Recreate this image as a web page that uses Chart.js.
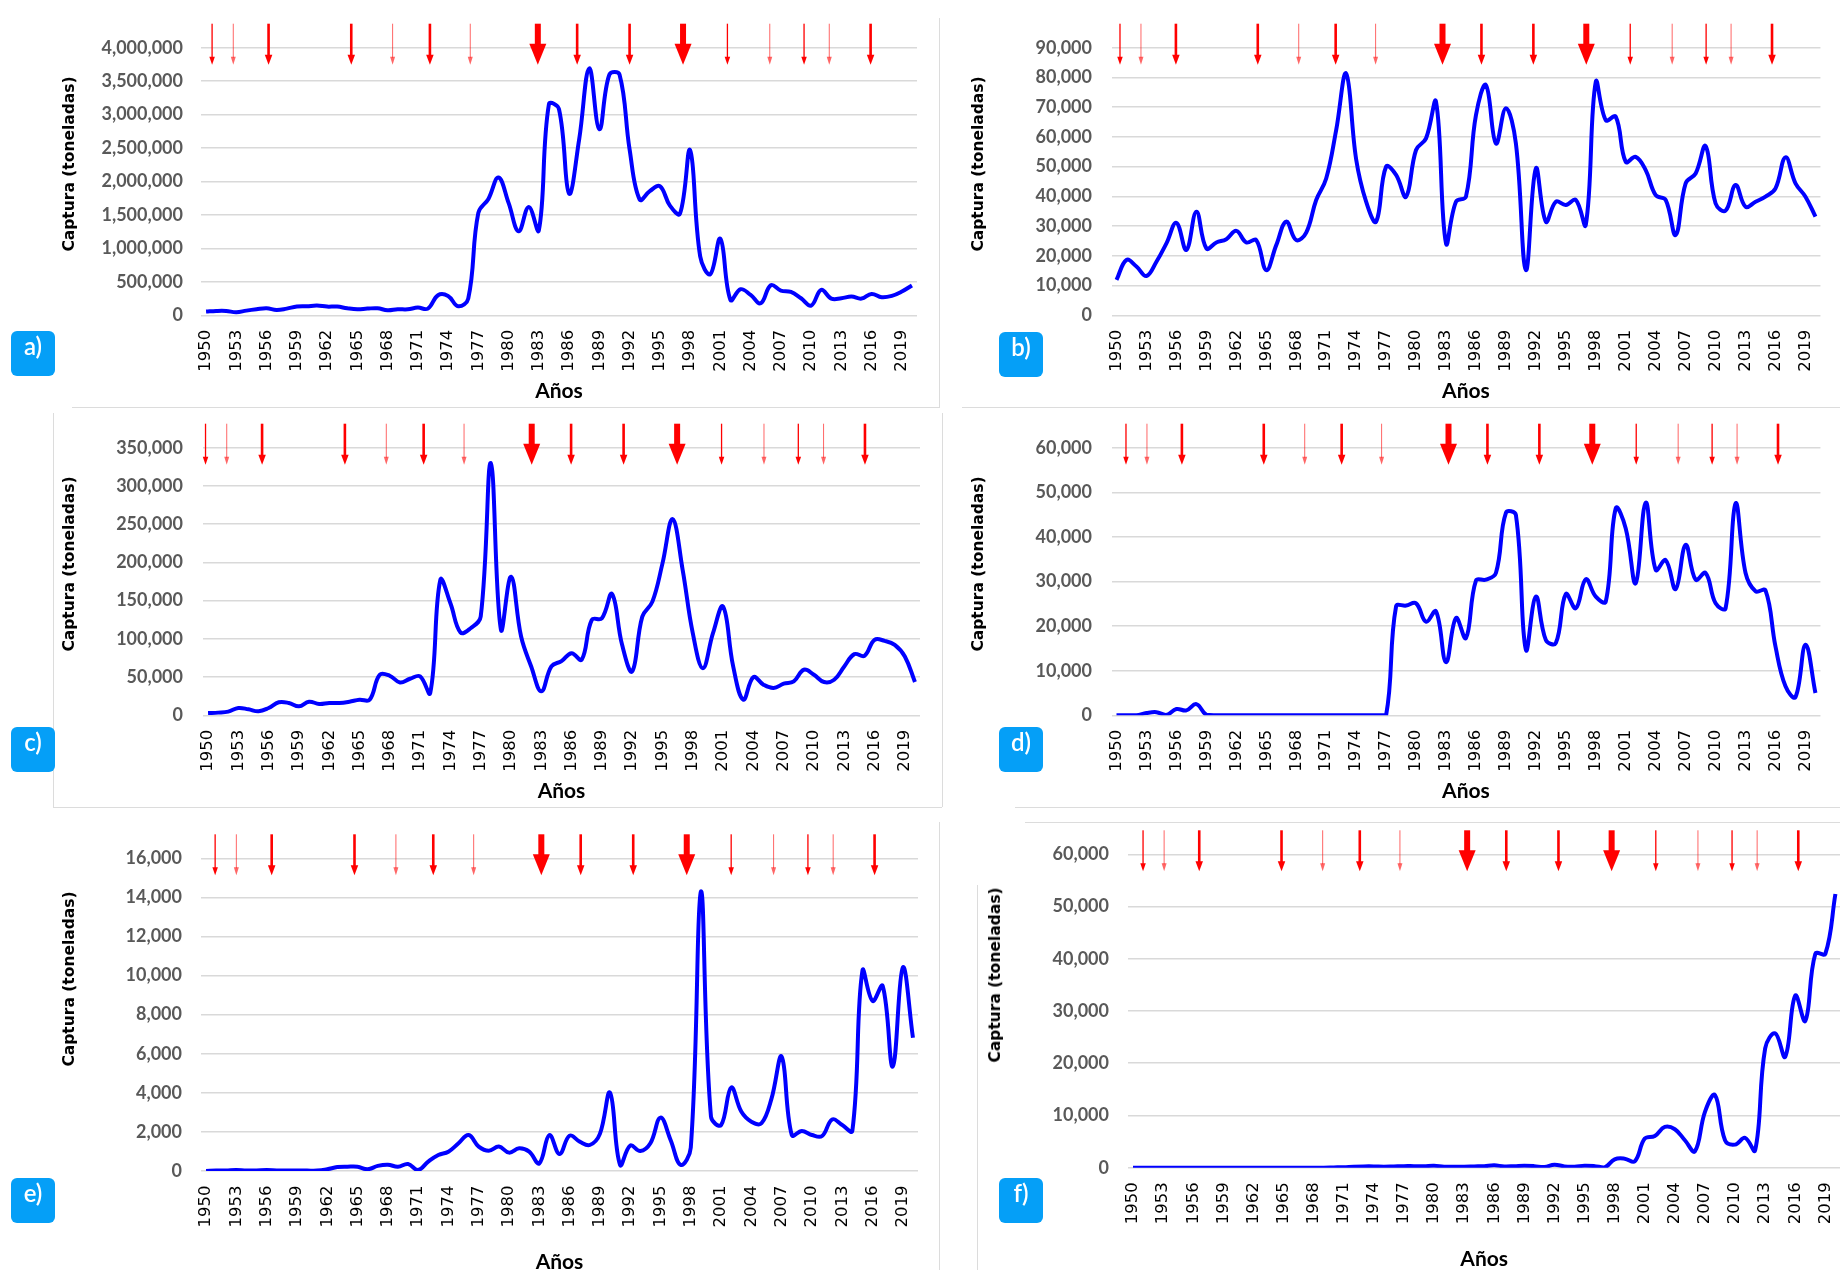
<!DOCTYPE html>
<html lang="es">
<head>
<meta charset="utf-8">
<title>Captura (toneladas) 1950-2020</title>
<script src="https://cdn.jsdelivr.net/npm/chart.js@4.4.1/dist/chart.umd.min.js"></script>
<style>
  html, body { margin: 0; padding: 0; background: #fff; }
  body { width: 1840px; height: 1270px; position: relative; overflow: hidden; }
  canvas { position: absolute; }
  .ytitle {
    position: absolute; white-space: nowrap;
    transform: translate(-50%, -50%) rotate(-90deg);
    font: bold 15.5px "DejaVu Sans", sans-serif; color: #000;
  }
  .badge {
    position: absolute; width: 44px; height: 45px; border-radius: 6px;
    background: #059ff7; color: #fff; text-align: center; line-height: 45px;
    font: 600 24px Lato, sans-serif;
  }
  .frame { position: absolute; background: #dcdcdc; }
</style>
</head>
<body>

<!-- marcos de los paneles -->
<div class="frame" style="left:939px;top:18px;width:1px;height:389px"></div>
<div class="frame" style="left:72px;top:407px;width:868px;height:1px"></div>
<div class="frame" style="left:962px;top:407px;width:878px;height:1px"></div>
<div class="frame" style="left:53px;top:413px;width:1px;height:394px"></div>
<div class="frame" style="left:942px;top:413px;width:1px;height:394px"></div>
<div class="frame" style="left:53px;top:807px;width:889px;height:1px"></div>
<div class="frame" style="left:1015px;top:807px;width:825px;height:1px"></div>
<div class="frame" style="left:939px;top:822px;width:1px;height:448px"></div>
<div class="frame" style="left:1025px;top:822px;width:815px;height:1px"></div>
<div class="frame" style="left:977px;top:885px;width:1px;height:385px"></div>

<canvas id="chartA" width="940" height="405" style="left:0;top:0"></canvas>
<canvas id="chartB" width="880" height="405" style="left:960px;top:0"></canvas>
<canvas id="chartC" width="940" height="405" style="left:0;top:400px"></canvas>
<canvas id="chartD" width="880" height="405" style="left:960px;top:400px"></canvas>
<canvas id="chartE" width="940" height="470" style="left:0;top:810px"></canvas>
<canvas id="chartF" width="900" height="470" style="left:960px;top:810px"></canvas>

<div class="ytitle" style="left:69px;top:164px">Captura (toneladas)</div>
<div class="ytitle" style="left:978px;top:164px">Captura (toneladas)</div>
<div class="ytitle" style="left:69px;top:564px">Captura (toneladas)</div>
<div class="ytitle" style="left:978px;top:564px">Captura (toneladas)</div>
<div class="ytitle" style="left:69px;top:979px">Captura (toneladas)</div>
<div class="ytitle" style="left:995px;top:975px">Captura (toneladas)</div>

<div class="badge" style="left:11px;top:331px">a)</div>
<div class="badge" style="left:999px;top:332px">b)</div>
<div class="badge" style="left:11px;top:727px">c)</div>
<div class="badge" style="left:999px;top:727px">d)</div>
<div class="badge" style="left:11px;top:1178px">e)</div>
<div class="badge" style="left:999px;top:1178px">f)</div>

<script>
// Años (eje X)
const years = [1950, 1951, 1952, 1953, 1954, 1955, 1956, 1957, 1958, 1959,
  1960, 1961, 1962, 1963, 1964, 1965, 1966, 1967, 1968, 1969,
  1970, 1971, 1972, 1973, 1974, 1975, 1976, 1977, 1978, 1979,
  1980, 1981, 1982, 1983, 1984, 1985, 1986, 1987, 1988, 1989,
  1990, 1991, 1992, 1993, 1994, 1995, 1996, 1997, 1998, 1999,
  2000, 2001, 2002, 2003, 2004, 2005, 2006, 2007, 2008, 2009,
  2010, 2011, 2012, 2013, 2014, 2015, 2016, 2017, 2018, 2019, 2020];
const tickYears = [1950, 1953, 1956, 1959, 1962, 1965, 1968, 1971, 1974, 1977, 1980, 1983,
  1986, 1989, 1992, 1995, 1998, 2001, 2004, 2007, 2010, 2013, 2016, 2019];

// Captura (toneladas) por panel, 1950-2020
const capturaA = [55000, 65000, 65000, 45000, 70000, 90000, 105000, 80000, 100000, 130000,
  135000, 145000, 130000, 130000, 105000, 90000, 100000, 105000, 75000, 90000,
  90000, 115000, 100000, 300000, 290000, 135000, 250000, 1530000, 1740000, 2060000,
  1680000, 1255000, 1620000, 1270000, 3155000, 3080000, 1820000, 2630000, 3690000, 2780000,
  3600000, 3600000, 2480000, 1730000, 1855000, 1930000, 1640000, 1520000, 2470000, 880000,
  615000, 1145000, 230000, 390000, 305000, 180000, 450000, 370000, 350000, 255000,
  145000, 380000, 250000, 255000, 280000, 250000, 320000, 270000, 290000, 355000, 445000];
const capturaB = [11900, 18600, 16400, 13200, 18000, 24200, 31100, 22000, 34800, 22500,
  24500, 25600, 28400, 24500, 25300, 15200, 23600, 31500, 25300, 27800,
  38800, 46000, 62300, 81300, 52500, 38200, 31500, 50000, 47200, 39900,
  55600, 59500, 71800, 24200, 38200, 39900, 67300, 77400, 57800, 69600,
  57800, 15200, 49400, 31500, 38200, 37100, 38800, 30400, 78500, 65600,
  66800, 51600, 53300, 48800, 40400, 38800, 27000, 44400, 47700, 56900,
  37600, 35200, 43800, 36500, 38200, 39900, 42700, 53100, 44400, 39900, 33200];
const capturaC = [3000, 3500, 4800, 9600, 7800, 5200, 9600, 17000, 16100, 11700,
  17800, 14800, 16100, 16100, 17800, 20400, 20400, 53000, 51700, 43000,
  47800, 50900, 29100, 177000, 146500, 108300, 113900, 129100, 330000, 112000,
  181300, 103000, 63900, 31300, 63900, 70900, 81300, 72600, 124800, 127000,
  158700, 92200, 57400, 129100, 148700, 198700, 256500, 190000, 107400, 61700,
  107400, 142200, 63900, 20400, 50000, 40000, 35700, 41300, 44300, 59600,
  53000, 43500, 46500, 63900, 80000, 77800, 98700, 97400, 92200, 77000, 43500];
const capturaD = [0, 0, 0, 500, 700, 100, 1400, 1100, 2500, 100,
  0, 0, 0, 0, 0, 0, 0, 0, 0, 0,
  0, 0, 0, 0, 0, 0, 0, 0, 24400, 24600,
  25100, 21000, 23300, 11900, 21800, 17300, 30200, 30400, 31900, 45400,
  44900, 14700, 26600, 16900, 16200, 27200, 24000, 30500, 26600, 25500,
  46400, 41900, 29600, 47700, 32600, 34800, 28300, 38200, 30400, 31900,
  25100, 24000, 47500, 31900, 27800, 28000, 15400, 6500, 4100, 15800, 5000];
const capturaE = [0, 20, 30, 50, 20, 30, 50, 30, 20, 20,
  20, 20, 90, 200, 220, 220, 90, 260, 320, 220,
  360, 50, 480, 820, 990, 1420, 1840, 1250, 1040, 1250,
  940, 1160, 990, 390, 1840, 870, 1810, 1500, 1330, 1900,
  4010, 310, 1300, 1020, 1420, 2730, 1590, 310, 1200, 14300,
  2780, 2350, 4270, 3040, 2520, 2440, 3720, 5850, 1840, 2050,
  1840, 1790, 2640, 2350, 2060, 10250, 8700, 9470, 5340, 10420, 6820];
const capturaF = [0, 0, 0, 0, 0, 0, 0, 0, 0, 0,
  0, 0, 0, 0, 0, 0, 0, 0, 0, 0,
  50, 100, 200, 250, 250, 200, 250, 300, 300, 300,
  380, 200, 200, 200, 250, 300, 450, 250, 300, 380,
  300, 130, 580, 250, 200, 380, 300, 60, 1600, 1730,
  1220, 5570, 6080, 7810, 7360, 5250, 3140, 10690, 13900, 5250,
  4420, 5700, 3330, 22850, 25700, 21250, 32960, 28100, 40960, 40960, 52400];

// Eventos El Niño: posición (año) e intensidad (1 débil ... 4 muy fuerte)
const ninoYears = [1950.6, 1952.7, 1956.2, 1964.4, 1968.5, 1972.2, 1976.2, 1982.9,
  1986.8, 1992.0, 1997.3, 2001.7, 2005.9, 2009.3, 2011.8, 2015.9];
const ninoStrength = [2, 1, 3, 3, 1, 3, 1, 4, 3, 3, 4, 2, 1, 2, 1, 3];

// estilo de las flechas según intensidad
const arrowStyles = [
  { color: 'rgba(255,0,0,0.6)', shaft: 1, headW: 5, headLen: 8 },
  { color: '#ff0000', shaft: 1.3, headW: 5.5, headLen: 8 },
  { color: '#ff0000', shaft: 2.6, headW: 7.5, headLen: 10 },
  { color: '#ff0000', shaft: 6, headW: 17, headLen: 21 }
];

// Flechas rojas sobre el área del gráfico
const ninoArrows = {
  id: 'ninoArrows',
  afterDatasetsDraw(chart, args, opts) {
    const ctx = chart.ctx;
    const xs = chart.scales.x;
    const top = chart.chartArea.top;
    const y0 = top - 24, y1 = top + 17;
    ctx.save();
    ninoYears.forEach(function(yr, i) {
      const st = arrowStyles[ninoStrength[i] - 1];
      const px = xs.getPixelForValue(yr - years[0] + (opts.shift || 0));
      ctx.fillStyle = st.color;
      ctx.fillRect(px - st.shaft / 2, y0, st.shaft, y1 - y0 - st.headLen + 1);
      ctx.beginPath();
      ctx.moveTo(px - st.headW / 2, y1 - st.headLen);
      ctx.lineTo(px + st.headW / 2, y1 - st.headLen);
      ctx.lineTo(px, y1);
      ctx.closePath();
      ctx.fill();
    });
    ctx.restore();
  }
};

const panels = [
  { id: 'chartA', data: capturaA, max: 4000000, step: 500000, yWidth: 201, padTop: 47.7, padRight: 23, xHeight: 89.7, tickPad: 18, titlePad: 1.4, shift: 0 },
  { id: 'chartB', data: capturaB, max: 90000, step: 10000, yWidth: 151.5, padTop: 47.7, padRight: 11, xHeight: 89.7, tickPad: 19.5, titlePad: 1.4, shift: -0.25 },
  { id: 'chartC', data: capturaC, max: 350000, step: 50000, yWidth: 203, padTop: 47.7, padRight: 20, xHeight: 89.7, tickPad: 20, titlePad: 1.4, shift: -0.85 },
  { id: 'chartD', data: capturaD, max: 60000, step: 10000, yWidth: 151.5, padTop: 47.7, padRight: 11, xHeight: 89.7, tickPad: 19.5, titlePad: 1.4, shift: 0.35 },
  { id: 'chartE', data: capturaE, max: 16000, step: 2000, yWidth: 201, padTop: 48.3, padRight: 22, xHeight: 109, tickPad: 19, titlePad: 5.4, shift: 0.3 },
  { id: 'chartF', data: capturaF, max: 60000, step: 10000, yWidth: 168, padTop: 44.3, padRight: 15.6, xHeight: 112.3, tickPad: 19, titlePad: 8.4, shift: 0.4 }
];

panels.forEach(function(p) {
  const ctx = document.getElementById(p.id).getContext('2d');
  new Chart(ctx, {
    type: 'line',
    data: {
      labels: years.map(String),
      datasets: [{
        data: p.data,
        borderColor: '#0000ff',
        borderWidth: 4,
        pointRadius: 0,
        tension: 0.4,
        fill: false
      }]
    },
    plugins: [ninoArrows],
    options: {
      responsive: false,
      animation: false,
      devicePixelRatio: 1,
      layout: { padding: { top: p.padTop, right: p.padRight, bottom: 0, left: 0 } },
      plugins: {
        legend: { display: false },
        tooltip: { enabled: false },
        ninoArrows: { shift: p.shift }
      },
      scales: {
        x: {
          offset: true,
          grid: { display: false, drawTicks: false },
          border: { display: false },
          ticks: {
            autoSkip: false,
            minRotation: 90,
            maxRotation: 90,
            padding: 14.5,
            color: '#000',
            font: { family: '"DejaVu Sans", sans-serif', size: 16.5 },
            callback: function(value, index) {
              return tickYears.includes(years[index]) ? String(years[index]) : null;
            }
          },
          title: {
            display: true,
            text: 'Años',
            color: '#000',
            font: { family: 'Lato, sans-serif', size: 21, weight: 'bold' },
            padding: { top: 0, bottom: p.titlePad }
          },
          afterFit: function(scale) { scale.height = p.xHeight; }
        },
        y: {
          min: 0,
          max: p.max,
          grid: { color: '#d9d9d9', lineWidth: 1.5, drawTicks: false },
          border: { display: false },
          ticks: {
            stepSize: p.step,
            padding: p.tickPad,
            color: '#595959',
            font: { family: 'Lato, sans-serif', size: 18, weight: 'bold' },
            callback: function(v) { return v.toLocaleString('en-US'); }
          },
          afterFit: function(scale) { scale.width = p.yWidth; }
        }
      }
    }
  });
});
</script>
</body>
</html>
